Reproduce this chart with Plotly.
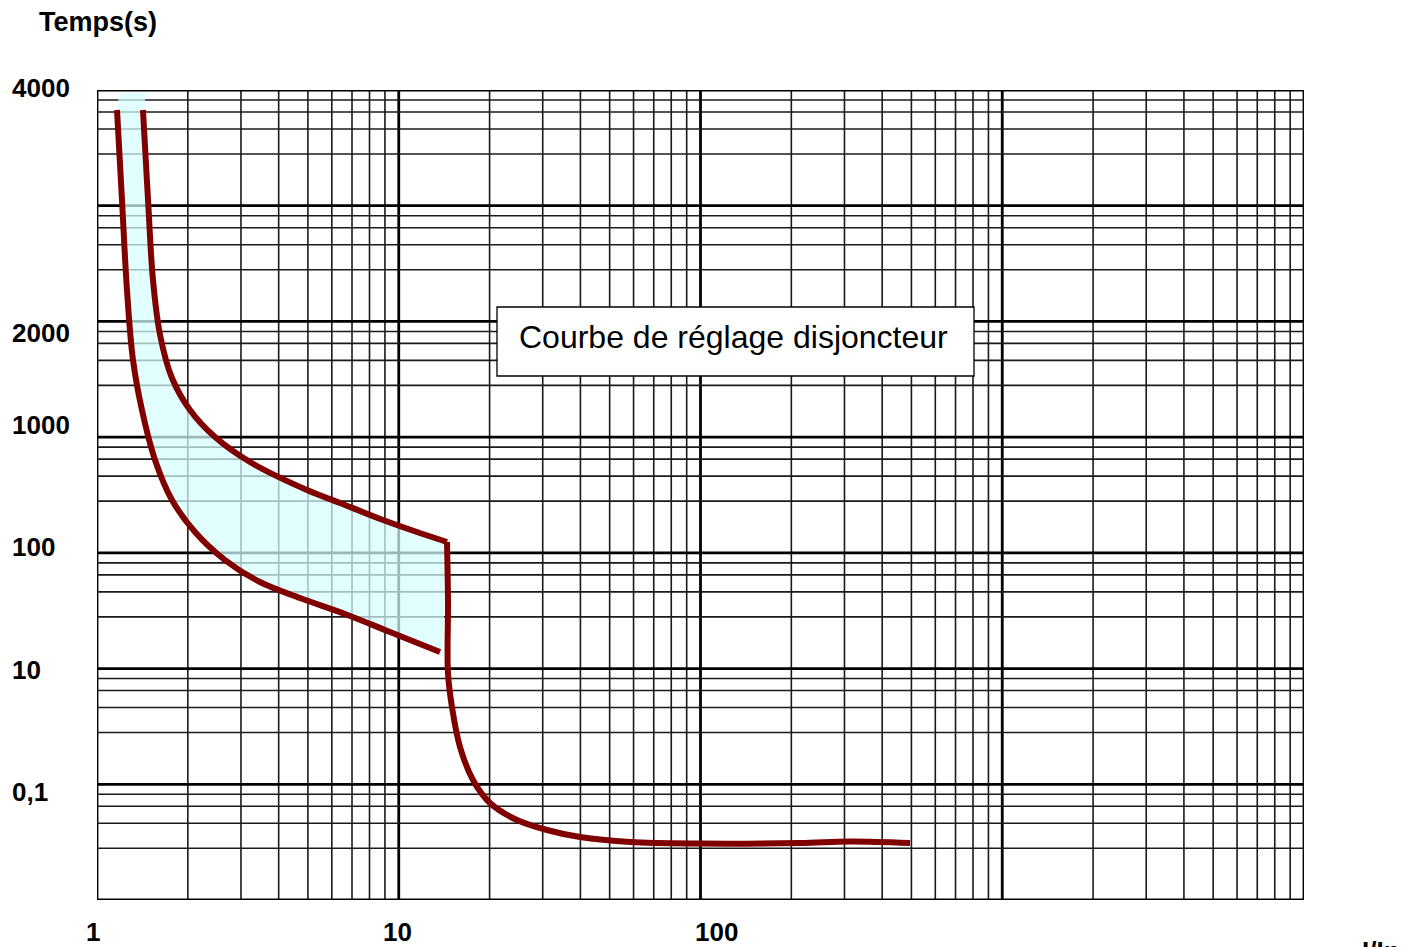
import plotly.graph_objects as go

# ---- data (x = I/In on log scale, y = band position on the schematic time scale, 0..7) ----
left_x = [1.165, 1.210, 1.257, 1.316, 1.409, 1.557, 1.772, 2.112, 2.656, 3.469,
          4.707, 6.635, 9.354, 13.70]
left_y = [6.827, 6.050, 5.272, 4.667, 4.235, 3.803, 3.457, 3.180, 2.938, 2.748,
          2.610, 2.472, 2.316, 2.143]

upper_x = [1.420, 1.476, 1.533, 1.618, 1.772, 2.033, 2.461, 3.214, 4.965, 6.388,
           8.867, 11.49, 14.45]
upper_y = [6.827, 6.050, 5.358, 4.883, 4.511, 4.235, 4.001, 3.785, 3.543, 3.431,
           3.284, 3.180, 3.094]

drop_x = [14.45, 14.56, 14.56, 15.01, 15.96, 17.62, 20.07, 24.65, 30.99, 39.87,
          58.40, 99.62, 213.6, 312.9, 494.7]
drop_y = [3.094, 2.593, 1.962, 1.668, 1.322, 1.037, 0.838, 0.691, 0.605, 0.544,
          0.501, 0.488, 0.493, 0.506, 0.493]

band_top_x = [1.192, 1.442]
band_top_y = [6.974, 6.974]
band_corner_x = [14.02]
band_corner_y = [2.204]

y_tick_labels = ["4000", "2000", "1000", "100", "10", "0,1"]
y_tick_px = [88, 333, 425, 547, 670, 792]
x_tick_labels = ["1", "10", "100"]
x_tick_px = [93, 397, 716]

n_bands = 7
sub_fracs = [0.447, 0.663, 0.81, 0.9136]
decades = [1, 10, 100, 1000, 10000]

FONT = "Arial, Liberation Sans, sans-serif"

# plot area in page pixels: x 97..1304, y 90..900 (page has an 8px body margin)
PX0, PX1, PY0, PY1 = 97, 1304, 90, 900


def px_x(p):
    return (p - PX0) / (PX1 - PX0)


def px_y(p):
    return (PY1 - p) / (PY1 - PY0)


fig = go.Figure()

# tolerance band; corner points are doubled so the spline keeps them sharp
tl_x, tr_x = band_top_x
tl_y, tr_y = band_top_y
fill_x = ([tl_x, tl_x, tr_x, tr_x] + upper_x[1:-1] + [upper_x[-1], upper_x[-1]]
          + band_corner_x * 2 + left_x[::-1] + [tl_x, tl_x])
fill_y = ([tl_y, tl_y, tr_y, tr_y] + upper_y[1:-1] + [upper_y[-1], upper_y[-1]]
          + band_corner_y * 2 + left_y[::-1] + [tl_y, tl_y])
fig.add_trace(go.Scatter(x=fill_x, y=fill_y, mode="lines", fill="toself",
                         fillcolor="rgba(215,255,255,0.72)",
                         line=dict(width=0, shape="spline", smoothing=1.0),
                         hoverinfo="skip", showlegend=False))

line_style = dict(color="#800000", width=6, shape="spline", smoothing=1.0)
fig.add_trace(go.Scatter(x=left_x, y=left_y, mode="lines", line=line_style, showlegend=False))
fig.add_trace(go.Scatter(x=upper_x, y=upper_y, mode="lines", line=line_style, showlegend=False))
fig.add_trace(go.Scatter(x=drop_x, y=drop_y, mode="lines", line=line_style, showlegend=False))

shapes = []
for d in decades[:-1]:
    for k in range(2, 10):
        shapes.append(dict(type="line", xref="x", yref="paper", x0=d * k, x1=d * k, y0=0, y1=1,
                           line=dict(color="#1a1a1a", width=1.6), layer="below"))
for d in decades:
    shapes.append(dict(type="line", xref="x", yref="paper", x0=d, x1=d, y0=0, y1=1,
                       line=dict(color="#000000", width=2.8), layer="below"))
for b in range(n_bands):
    for f in sub_fracs:
        shapes.append(dict(type="line", xref="paper", yref="y", x0=0, x1=1, y0=b + f, y1=b + f,
                           line=dict(color="#1a1a1a", width=1.6), layer="below"))
for b in range(n_bands + 1):
    shapes.append(dict(type="line", xref="paper", yref="y", x0=0, x1=1, y0=b, y1=b,
                       line=dict(color="#000000", width=2.8), layer="below"))
shapes.append(dict(type="rect", xref="paper", yref="paper",
                   x0=px_x(497), x1=px_x(974), y0=px_y(376), y1=px_y(307),
                   fillcolor="white", line=dict(color="black", width=1.3), layer="above"))

annotations = []
for lab, p in zip(y_tick_labels, y_tick_px):
    annotations.append(dict(text=lab, xref="paper", yref="paper", x=px_x(10), y=px_y(p),
                            xanchor="left", yanchor="middle", showarrow=False,
                            font=dict(family=FONT, size=26, color="black", weight="bold")))
for lab, p in zip(x_tick_labels, x_tick_px):
    annotations.append(dict(text=lab, xref="paper", yref="paper", x=px_x(p), y=px_y(932),
                            xanchor="center", yanchor="middle", showarrow=False,
                            font=dict(family=FONT, size=26, color="black", weight="bold")))
annotations.append(dict(text="Temps(s)", xref="paper", yref="paper", x=px_x(37),
                        y=px_y(22), xanchor="left", yanchor="middle", showarrow=False,
                        font=dict(family=FONT, size=27, color="black", weight="bold")))
annotations.append(dict(text="I/In", xref="paper", yref="paper", x=px_x(1360),
                        y=px_y(934), xanchor="left", yanchor="top", showarrow=False,
                        font=dict(family=FONT, size=26, color="black", weight="bold")))
annotations.append(dict(text="Courbe de réglage disjoncteur", xref="paper", yref="paper",
                        x=px_x(517), y=px_y(337), xanchor="left", yanchor="middle",
                        showarrow=False, font=dict(family=FONT, size=32, color="black")))

fig.update_layout(
    width=1400, height=939, autosize=False,
    margin=dict(l=PX0 - 8, r=1408 - PX1, t=PY0 - 8, b=947 - PY1),
    paper_bgcolor="white", plot_bgcolor="white",
    xaxis=dict(type="log", range=[0, 4], showgrid=False, zeroline=False,
               showticklabels=False, ticks="", showline=False),
    yaxis=dict(range=[0, 7], showgrid=False, zeroline=False,
               showticklabels=False, ticks="", showline=False),
    shapes=shapes, annotations=annotations, showlegend=False,
)

fig.write_html("out.html")
